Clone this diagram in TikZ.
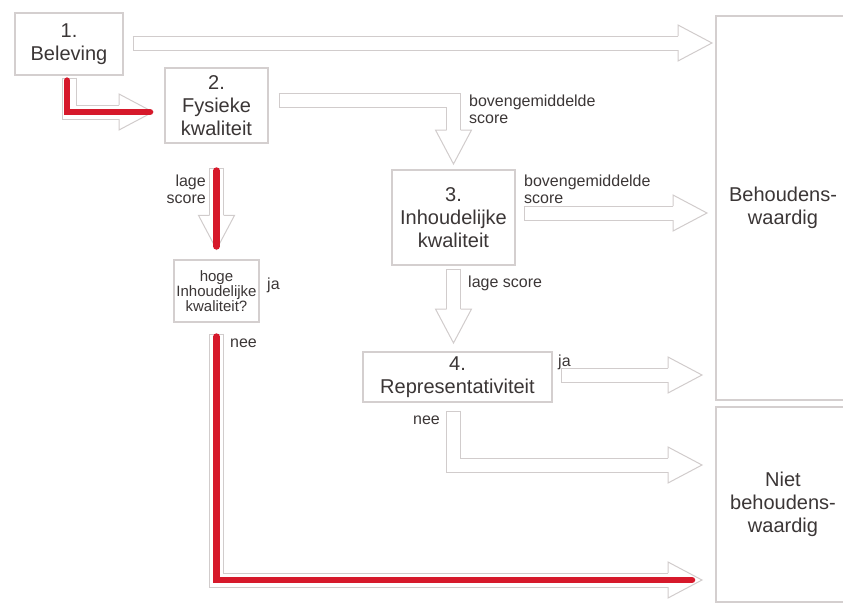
\documentclass[tikz,border=0pt]{standalone}
\usepackage{fontspec}
\setmainfont{Liberation Sans}
\usepackage{tikz}
\definecolor{lijngrijs}{rgb}{0.82,0.80,0.80}
\definecolor{randgrijs}{rgb}{0.83,0.81,0.81}
\definecolor{tekstgrijs}{rgb}{0.23,0.21,0.21}
\definecolor{rood}{rgb}{0.84,0.10,0.17}

\tikzset{
  blok/.style={draw=randgrijs, line width=1.2pt, fill=white, text=tekstgrijs,
    align=center, inner sep=0pt, font=\fontsize{20}{23}\selectfont},
  vraagblok/.style={blok, font=\fontsize{15}{15}\selectfont},
  bijschrift/.style={text=tekstgrijs, inner sep=0pt, align=left,
    font=\fontsize{16}{17}\selectfont},
  rand/.style={draw=lijngrijs, line width=15pt},
  binnen/.style={draw=white, line width=13pt, shorten <=1pt},
  kop/.style={draw=lijngrijs, line width=1pt, fill=white},
  spoor/.style={draw=rood, line width=6.5pt, line cap=round},
}

% holle pijl: #1 schacht tot de kop, #2 punt, #3 richting
\newcommand{\holpijl}[3]{%
  \draw[rand] #1;
  \draw[binnen] #1;
  \draw[kop, shift={(#2)}, rotate=#3] (-34,-7) -- (-34,-18) -- (0,0) -- (-34,18) -- (-34,7);
}

\begin{document}
\begin{tikzpicture}[x=1pt,y=-1pt]
  \useasboundingbox (0,0) rectangle (843,608);
  \clip (0,0) rectangle (843,608);

  % blokken
  \node[blok, minimum width=108, minimum height=62] (belev) at (69,44) {1.\\Beleving};
  \node[blok, minimum width=103, minimum height=75] (fysiek) at (216.5,105.5) {2.\\Fysieke\\kwaliteit};
  \node[blok, minimum width=123, minimum height=95] (inhoud) at (453.5,217.5) {3.\\Inhoudelijke\\kwaliteit};
  \node[vraagblok, minimum width=85, minimum height=62] (vraag) at (216.5,291) {hoge\\Inhoudelijke\\kwaliteit?};
  \node[blok, minimum width=189, minimum height=50] (repr) at (457.5,377) {4.\\Representativiteit};
  \node[blok, minimum width=134, minimum height=384] (behoud) at (783,208) {Behoudens-\\waardig};
  \node[blok, minimum width=134, minimum height=195] (niet) at (783,504.5) {Niet\\behoudens-\\waardig};

  % punten van de pijlen
  \coordinate (p1) at (712,43);
  \coordinate (p2) at (153,112);
  \coordinate (p3) at (453.5,164);
  \coordinate (p4) at (707,213);
  \coordinate (p5) at (453.5,343);
  \coordinate (p6) at ([yshift=10pt]vraag.north);
  \coordinate (p7) at (702,580);
  \coordinate (p8) at (702,375);
  \coordinate (p9) at (702,465);

  % holle pijlen
  \holpijl{([xshift=9pt,yshift=1pt]belev.east) -- ([xshift=-34pt]p1)}{p1}{0}
  \holpijl{([yshift=-2pt]belev.south) -- (belev.south |- p2) -- ([xshift=-34pt]p2)}{p2}{0}
  \holpijl{([xshift=10pt,yshift=5.5pt]fysiek.east) -| ([yshift=34pt]p3)}{p3}{-90}
  \holpijl{([xshift=8pt,yshift=4.5pt]inhoud.east) -- ([xshift=-34pt]p4)}{p4}{0}
  \holpijl{([yshift=-3pt]inhoud.south) -- ([yshift=34pt]p5)}{p5}{-90}
  \holpijl{([yshift=-24pt]fysiek.south) -- ([yshift=34pt]p6)}{p6}{-90}
  \holpijl{([yshift=-11pt]vraag.south) |- ([xshift=-34pt]p7)}{p7}{0}
  \holpijl{([xshift=8pt,yshift=2pt]repr.east) -- ([xshift=-34pt]p8)}{p8}{0}
  \holpijl{([xshift=-4pt,yshift=-8pt]repr.south) |- ([xshift=-34pt]p9)}{p9}{0}

  % rode route
  \draw[spoor] ([xshift=-2pt,yshift=-5pt]belev.south) -- ([xshift=-2pt]belev.south |- p2) -- ([xshift=-3pt]p2);
  \draw[spoor] ([yshift=-27pt]fysiek.south) -- ([yshift=3pt]p6);
  \draw[spoor] ([yshift=-14pt]vraag.south) |- ([xshift=-10pt]p7);

  % bijschriften
  \node[bijschrift, anchor=north west] (b1) at (469,95) {bovengemiddelde\\score};
  \node[bijschrift, anchor=north west] (b2) at (524,175) {bovengemiddelde\\score};
  \node[bijschrift, anchor=north east, align=right] (b3) at (206,175) {lage\\score};
  \node[bijschrift, anchor=north west] (b4) at (468,276) {lage score};
  \node[bijschrift, anchor=north west] (b5) at (267,278) {ja};
  \node[bijschrift, anchor=north west] (b6) at (230,339) {nee};
  \node[bijschrift, anchor=north west] (b7) at (558,355) {ja};
  \node[bijschrift, anchor=north west] (b8) at (413,416) {nee};
\end{tikzpicture}
\end{document}
